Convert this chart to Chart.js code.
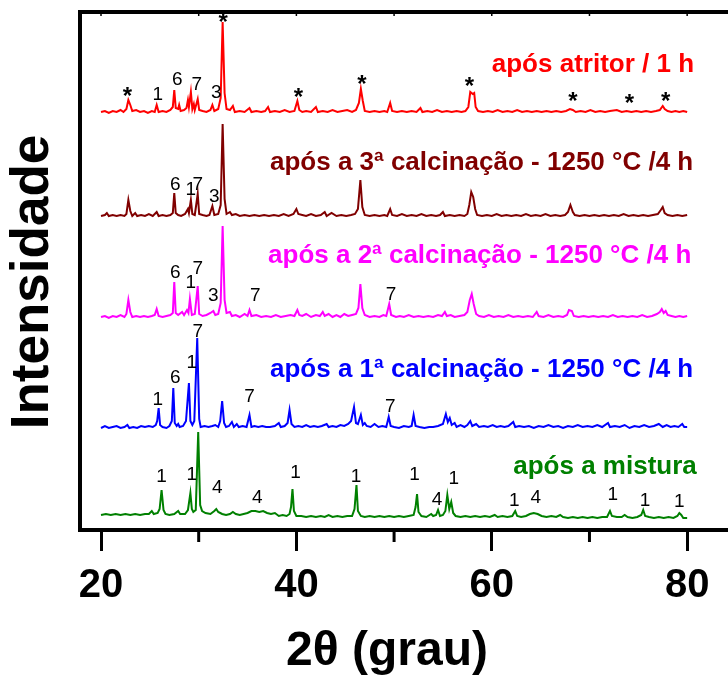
<!DOCTYPE html>
<html>
<head>
<meta charset="utf-8">
<script src="https://cdn.jsdelivr.net/npm/chart.js@4/dist/chart.umd.min.js"></script>
<style>
  html, body { margin: 0; padding: 0; background: #fff; overflow: hidden; }
  #wrap { width: 760px; height: 676px; }
</style>
</head>
<body>
<div id="wrap"><canvas id="xrd" width="760" height="676"></canvas></div>
<script>
// difratogramas : [2theta, intensidade relativa a linha de base]
const scanMistura = [[20,4],[20.5,5],[21.0,4],[21.5,5],[22.0,4],[22.5,5],[23.0,4],[23.5,5],[24.0,4],[24.5,5],[24.9,5],[25.2,8],[25.4,5],[25.8,6],[26.0,10],[26.2,29],[26.4,9],[26.6,5],[27.0,4],[27.5,5],[27.9,8],[28.1,5],[28.6,5],[28.9,9],[29.15,26],[29.3,10],[29.45,7],[29.7,9],[29.95,87],[30.15,14],[30.35,8],[30.7,6],[31.2,5],[31.6,8],[31.8,10],[32.0,7],[32.4,5],[32.8,4],[33.2,5],[33.5,7],[33.8,5],[34.2,4],[34.6,5],[35.0,6],[35.4,8],[35.8,8],[36.2,7],[36.6,8],[37.0,6],[37.4,5],[37.8,6],[38.2,3],[38.6,4],[39.0,3],[39.3,5],[39.45,12],[39.6,30],[39.75,8],[40.0,3],[40.5,3],[41.0,2],[41.5,3],[42.0,2],[42.5,3],[42.9,2],[43.3,4],[43.7,2],[44.2,3],[44.7,2],[45.2,3],[45.7,3],[45.95,10],[46.15,34],[46.3,8],[46.6,3],[47.0,2],[47.5,3],[48.0,2],[48.5,3],[49.0,2],[49.5,3],[50.0,2],[50.5,3],[51.0,2],[51.5,3],[52.0,4],[52.2,12],[52.35,25],[52.5,7],[52.8,3],[53.3,2],[53.8,5],[54.0,3],[54.3,4],[54.5,9],[54.7,3],[55.0,4],[55.25,8],[55.45,24],[55.65,10],[55.85,17],[56.05,6],[56.3,3],[56.8,2],[57.3,3],[57.8,2],[58.3,3],[58.8,2],[59.3,3],[59.8,2],[60.3,4],[60.6,2],[61.1,3],[61.6,2],[62.1,3],[62.4,8],[62.6,3],[63.0,2],[63.5,3],[63.9,5],[64.3,6],[64.7,5],[65.1,3],[65.6,2],[66.1,3],[66.6,2],[67.0,4],[67.3,2],[67.8,1],[68.3,2],[68.8,1],[69.3,2],[69.8,1],[70.3,2],[70.8,1],[71.3,2],[71.8,2],[72.1,8],[72.3,3],[72.8,2],[73.3,2],[73.6,4],[73.9,2],[74.4,1],[74.9,2],[75.3,4],[75.5,9],[75.7,3],[76.1,2],[76.6,1],[77.1,2],[77.6,1],[78.1,2],[78.6,1],[79.0,3],[79.2,6],[79.4,4],[79.6,1],[80,1]];

const scanCalc1 = [[20,1],[20.4,3],[20.8,1],[21.2,2],[21.6,3],[22.0,1],[22.4,2],[22.7,4],[22.9,1],[23.3,2],[23.7,1],[24.1,3],[24.5,2],[24.9,3],[25.3,2],[25.6,4],[25.75,8],[25.9,21],[26.05,4],[26.3,2],[26.7,1],[27.0,3],[27.25,8],[27.4,41],[27.55,6],[27.75,3],[27.9,5],[28.05,2],[28.4,3],[28.7,8],[29.0,46],[29.15,8],[29.35,4],[29.55,8],[29.85,91],[30.05,10],[30.2,2],[30.6,3],[31.0,2],[31.4,3],[31.7,4],[32.0,2],[32.2,8],[32.4,28],[32.6,6],[32.8,2],[33.1,3],[33.4,7],[33.6,2],[33.9,5],[34.1,2],[34.5,3],[34.9,2],[35.2,14],[35.4,2],[35.7,3],[36.1,2],[36.5,3],[36.9,2],[37.3,2],[37.8,3],[38.2,6],[38.4,2],[38.8,3],[39.1,6],[39.3,19],[39.5,5],[39.8,2],[40.2,3],[40.6,2],[41.0,4],[41.4,2],[41.8,3],[42.2,2],[42.6,3],[43.1,5],[43.3,2],[43.7,3],[44.1,2],[44.5,4],[44.9,3],[45.3,5],[45.6,8],[45.9,22],[46.1,6],[46.3,5],[46.6,14],[46.8,4],[47.0,6],[47.2,3],[47.6,2],[48.0,5],[48.4,2],[48.8,3],[49.2,2],[49.45,12],[49.65,3],[50.0,2],[50.5,1],[51.0,3],[51.5,2],[51.8,3],[52.0,14],[52.2,3],[52.6,2],[53.1,1],[53.6,2],[54.0,2],[54.5,3],[55.0,5],[55.3,15],[55.5,7],[55.7,11],[55.9,4],[56.2,6],[56.4,2],[56.8,4],[57.2,2],[57.5,4],[57.8,8],[58.0,3],[58.4,5],[58.7,2],[59.2,3],[59.6,2],[60.1,4],[60.5,2],[60.9,3],[61.3,2],[61.7,3],[62.2,7],[62.4,2],[62.8,3],[63.3,2],[63.8,3],[64.3,1],[64.8,3],[65.3,2],[65.8,4],[66.3,2],[66.8,3],[67.3,1],[67.8,3],[68.3,2],[68.8,4],[69.3,2],[69.8,3],[70.3,2],[70.8,4],[71.3,2],[71.9,6],[72.1,2],[72.6,3],[73.1,2],[73.6,4],[74.1,1],[74.6,3],[75.1,2],[75.6,4],[76.1,2],[76.6,3],[77.1,5],[77.5,2],[77.9,4],[78.3,2],[78.7,3],[79.1,2],[79.5,5],[79.7,2],[80,2]];

const scanCalc2 = [[20,1],[20.4,2],[20.8,0],[21.2,2],[21.6,1],[22.0,3],[22.4,1],[22.6,4],[22.8,18],[23.0,6],[23.2,1],[23.6,2],[24.0,1],[24.4,2],[24.8,1],[25.2,2],[25.5,3],[25.7,9],[25.9,2],[26.3,1],[26.7,2],[27.1,3],[27.35,5],[27.5,36],[27.65,5],[27.9,3],[28.3,6],[28.5,3],[28.8,8],[28.95,5],[29.1,19],[29.3,3],[29.6,4],[29.9,32],[30.05,4],[30.4,2],[30.8,3],[31.2,5],[31.5,7],[31.7,3],[32.0,4],[32.25,15],[32.45,92],[32.65,18],[32.85,5],[33.2,6],[33.4,2],[33.8,3],[34.2,1],[34.7,4],[35.0,2],[35.2,8],[35.4,2],[35.9,3],[36.4,1],[36.9,2],[37.4,1],[37.9,3],[38.4,1],[38.9,2],[39.4,3],[39.8,2],[40.1,8],[40.3,3],[40.6,2],[41.0,4],[41.5,1],[42.0,3],[42.4,2],[42.7,6],[42.9,2],[43.3,4],[43.7,1],[44.1,3],[44.5,1],[44.9,4],[45.3,2],[45.7,3],[46.1,4],[46.35,10],[46.55,34],[46.75,10],[47.0,3],[47.5,1],[48.0,2],[48.5,1],[48.9,3],[49.2,2],[49.5,14],[49.7,3],[50.2,1],[50.6,2],[51.0,1],[51.5,3],[52.0,1],[52.5,2],[53.0,1],[53.5,2],[54.0,1],[54.5,3],[54.9,2],[55.2,6],[55.4,2],[55.8,3],[56.2,1],[56.7,2],[57.2,3],[57.5,6],[57.75,18],[57.95,24],[58.15,14],[58.4,4],[58.7,2],[59.2,1],[59.7,3],[60.2,1],[60.7,2],[61.2,1],[61.7,3],[62.2,1],[62.7,2],[63.2,1],[63.7,2],[64.2,1],[64.6,6],[64.8,2],[65.3,1],[65.8,3],[66.3,1],[66.8,2],[67.3,1],[67.7,3],[67.9,8],[68.2,7],[68.4,2],[68.9,1],[69.4,2],[69.9,1],[70.4,2],[70.9,1],[71.4,2],[71.9,1],[72.4,3],[72.9,1],[73.4,2],[73.9,1],[74.4,2],[74.9,1],[75.4,3],[75.9,1],[76.4,2],[76.9,4],[77.2,6],[77.4,9],[77.6,5],[77.8,7],[78.0,3],[78.4,2],[78.8,1],[79.2,2],[79.6,1],[80,2]];

const scanCalc3 = [[20,1],[20.4,2],[20.6,4],[20.8,1],[21.2,2],[21.6,1],[22.0,2],[22.4,1],[22.6,3],[22.8,17],[23.0,6],[23.2,1],[23.5,4],[23.7,1],[24.1,2],[24.5,1],[24.9,3],[25.3,1],[25.7,5],[25.9,1],[26.3,2],[26.7,1],[27.1,2],[27.35,4],[27.5,24],[27.65,4],[27.9,2],[28.2,1],[28.6,3],[28.9,8],[29.0,4],[29.2,17],[29.35,3],[29.6,2],[29.9,23],[30.05,3],[30.4,2],[30.8,1],[31.1,2],[31.4,11],[31.6,2],[32.0,3],[32.25,12],[32.45,93],[32.65,18],[32.85,3],[33.2,5],[33.4,2],[33.8,3],[34.2,1],[34.7,2],[35.2,1],[35.7,2],[36.2,1],[36.7,2],[37.2,1],[37.7,2],[38.2,1],[38.7,3],[39.2,1],[39.7,3],[40.0,8],[40.2,3],[40.6,2],[41.0,1],[41.5,3],[42.0,1],[42.5,2],[42.9,5],[43.1,1],[43.6,4],[44.1,1],[44.6,2],[45.1,1],[45.6,2],[46.0,3],[46.3,8],[46.55,37],[46.75,10],[47.0,2],[47.5,1],[48.0,2],[48.5,1],[49.0,2],[49.3,1],[49.6,8],[49.8,2],[50.3,1],[50.8,3],[51.3,1],[51.8,2],[52.3,1],[52.8,3],[53.3,1],[53.8,2],[54.3,1],[54.7,2],[55.0,5],[55.2,1],[55.7,2],[56.2,1],[56.7,2],[57.2,1],[57.5,3],[57.7,12],[57.9,25],[58.1,20],[58.3,8],[58.5,2],[59.0,1],[59.5,2],[60.0,1],[60.5,3],[61.0,1],[61.5,2],[62.0,1],[62.5,2],[63.0,1],[63.5,3],[64.0,1],[64.5,2],[65.0,1],[65.5,3],[66.0,1],[66.5,2],[67.0,1],[67.5,2],[67.8,5],[68.05,12],[68.3,5],[68.5,2],[69.0,1],[69.5,2],[70.0,1],[70.5,2],[71.0,1],[71.5,2],[72.0,1],[72.5,2],[73.0,1],[73.5,3],[74.0,1],[74.5,2],[75.0,1],[75.5,2],[76.0,1],[76.5,2],[77.0,3],[77.3,7],[77.5,10],[77.7,4],[78.0,2],[78.5,1],[79.0,2],[79.5,1],[80,2]];

const scanAtritor = [[20,1],[20.4,2],[20.8,0],[21.2,2],[21.6,1],[22.0,3],[22.3,1],[22.6,4],[22.8,13],[23.0,8],[23.2,2],[23.6,3],[24.0,1],[24.4,2],[24.8,0],[25.2,2],[25.5,1],[25.7,8],[25.9,1],[26.3,2],[26.7,1],[27.1,3],[27.35,6],[27.5,23],[27.65,5],[27.9,4],[28.0,8],[28.15,2],[28.5,3],[28.75,5],[28.9,13],[29.0,6],[29.2,21],[29.35,4],[29.5,9],[29.6,3],[29.9,14],[30.05,3],[30.4,2],[30.8,1],[31.2,3],[31.4,8],[31.6,2],[32.0,4],[32.25,15],[32.45,91],[32.65,20],[32.85,4],[33.2,3],[33.5,7],[33.7,1],[34.2,2],[34.7,1],[35.2,5],[35.4,1],[35.9,2],[36.4,1],[36.8,2],[37.1,6],[37.3,1],[37.8,2],[38.3,1],[38.8,3],[39.3,1],[39.8,2],[40.1,12],[40.3,3],[40.6,1],[41.0,2],[41.5,1],[42.0,6],[42.2,1],[42.7,2],[43.2,1],[43.7,3],[44.2,1],[44.7,2],[45.2,3],[45.7,1],[46.1,3],[46.4,10],[46.6,24],[46.8,12],[47.0,2],[47.5,1],[48.0,2],[48.5,1],[49.0,2],[49.3,1],[49.6,10],[49.8,2],[50.3,1],[50.8,2],[51.3,1],[51.8,2],[52.3,1],[52.7,5],[52.9,1],[53.4,2],[53.9,1],[54.4,3],[54.9,1],[55.4,2],[55.9,1],[56.4,2],[56.9,1],[57.3,2],[57.6,6],[57.8,21],[58.05,19],[58.2,20],[58.35,6],[58.6,2],[59.1,1],[59.6,2],[60.1,1],[60.6,3],[61.1,1],[61.6,2],[62.1,1],[62.6,3],[63.1,1],[63.6,2],[64.1,1],[64.6,2],[65.1,1],[65.6,2],[66.1,1],[66.6,2],[67.1,1],[67.6,2],[68.0,4],[68.3,3],[68.6,1],[69.1,2],[69.6,1],[70.1,3],[70.6,1],[71.1,2],[71.6,1],[72.1,2],[72.8,3],[73.3,1],[73.8,2],[74.3,1],[74.8,2],[75.3,1],[75.8,2],[76.3,1],[76.8,2],[77.2,3],[77.5,7],[77.7,4],[78.0,2],[78.4,1],[78.8,2],[79.2,1],[79.6,2],[80,1]];

// empilhamento (deslocamento vertical de cada curva)
const offsets = [11, 101, 212, 313, 417];
const seriesNames = ['após a mistura', 'após a 1ª calcinação - 1250 °C /4 h', 'após a 2ª calcinação - 1250 °C /4 h', 'após a 3ª calcinação - 1250 °C /4 h', 'após atritor / 1 h'];
const seriesColors = ['#008000', '#0000ff', '#ff00ff', '#800000', '#ff0000'];
// onde fica o nome de cada curva [2theta, intensidade]
const namePos = [[62.2, 63], [37.3, 160], [37.1, 274], [37.3, 367], [60.0, 465]];

// identificacao dos picos : [2theta, intensidade, rotulo]
const peakMarks = [
  [26.2,53,'1'],[29.3,55,'1'],[31.9,42,'4'],[36.0,32,'4'],[39.9,57,'1'],[46.1,53,'1'],[52.1,55,'1'],[54.4,30,'4'],[56.1,51,'1'],[62.3,29,'1'],[64.5,32,'4'],[72.4,35,'1'],[75.7,29,'1'],[79.2,28,'1'],
  [25.8,130,'1'],[27.6,152,'6'],[29.3,167,'1'],[29.9,198,'7'],[35.2,133,'7'],[49.6,123,'7'],
  [27.6,257,'6'],[29.2,247,'1'],[29.9,261,'7'],[31.5,234,'3'],[35.8,234,'7'],[49.7,235,'7'],
  [27.6,345,'6'],[29.2,340,'1'],[29.9,345,'7'],[31.6,333,'3'],
  [22.7,438,'*'],[25.8,435,'1'],[27.8,450,'6'],[29.8,445,'7'],[31.8,437,'3'],[32.5,512,'*'],[40.2,437,'*'],[46.7,450,'*'],[57.7,448,'*'],[68.3,433,'*'],[74.1,431,'*'],[77.8,433,'*']
];

const xTicks = [20, 30, 40, 50, 60, 70, 80];
const FONT = "'Liberation Sans', Arial, Helvetica, sans-serif";

let scans = [scanMistura, scanCalc1, scanCalc2, scanCalc3, scanAtritor];

let datasets = scans.map((scan, i) => ({
    label: seriesNames[i],
    data: scan.map(p => ({ x: p[0], y: p[1] + offsets[i] })),
    borderColor: seriesColors[i],
    borderWidth: 2,
    pointRadius: 0,
    tension: 0,
    fill: false
}));

// textos, moldura superior, ticks menores e titulos dos eixos
const decoPlugin = {
    id: 'deco',
    afterDatasetsDraw(chart) {
        const ctx = chart.ctx;
        const xs = chart.scales.x, ys = chart.scales.y;
        const area = chart.chartArea;
        ctx.save();

        // linha de cima
        ctx.strokeStyle = '#000';
        ctx.lineWidth = 4;
        ctx.beginPath();
        ctx.moveTo(area.left - 2, area.top);
        ctx.lineTo(area.right, area.top);
        ctx.stroke();
        ctx.lineWidth = 1.5;
        xTicks.forEach(v => {
            let px = xs.getPixelForValue(v);
            ctx.beginPath();
            ctx.moveTo(px, area.top);
            ctx.lineTo(px, area.top + 4);
            ctx.stroke();
        });

        // ticks menores em baixo
        ctx.lineWidth = 3;
        xTicks.filter(v => v % 20 !== 0).forEach(v => {
            let px = xs.getPixelForValue(v);
            ctx.beginPath();
            ctx.moveTo(px, area.bottom);
            ctx.lineTo(px, area.bottom + 12);
            ctx.stroke();
        });

        // nomes das curvas
        ctx.textAlign = 'left';
        ctx.textBaseline = 'middle';
        ctx.font = 'bold 26px ' + FONT;
        seriesNames.forEach((name, i) => {
            ctx.fillStyle = seriesColors[i];
            ctx.fillText(name, xs.getPixelForValue(namePos[i][0]), ys.getPixelForValue(namePos[i][1]));
        });

        // rotulos dos picos
        ctx.fillStyle = '#000';
        ctx.textAlign = 'center';
        peakMarks.forEach(m => {
            let px = xs.getPixelForValue(m[0]);
            let py = ys.getPixelForValue(m[1]);
            if (m[2] === '*') {
                ctx.font = 'bold 24px ' + FONT;
                ctx.fillText(m[2], px, py + 5);
            } else {
                ctx.font = '19px ' + FONT;
                ctx.fillText(m[2], px, py);
            }
        });

        // titulos dos eixos
        ctx.font = 'bold 48px ' + FONT;
        ctx.fillText('2θ (grau)', 387, 652);
        ctx.translate(33, 282);
        ctx.rotate(-Math.PI / 2);
        ctx.font = 'bold 53px ' + FONT;
        ctx.fillText('Intensidade', 0, 0);

        ctx.restore();
    }
};

new Chart(document.getElementById('xrd'), {
    type: 'line',
    data: { datasets: datasets },
    options: {
        responsive: false,
        animation: false,
        devicePixelRatio: 1,
        layout: { padding: { left: 0, right: 24, top: 12, bottom: 0 } },
        plugins: { legend: { display: false }, tooltip: { enabled: false } },
        scales: {
            x: {
                type: 'linear',
                min: 17.85,
                max: 85,
                afterBuildTicks: s => { s.ticks = xTicks.map(v => ({ value: v })); },
                afterFit: s => { s.height = 146; },
                border: { display: true, width: 4, color: '#000' },
                grid: {
                    drawOnChartArea: false,
                    drawTicks: true,
                    tickLength: 21,
                    tickWidth: 3,
                    tickColor: c => (c.tick && c.tick.value % 20 === 0) ? '#000' : 'rgba(0,0,0,0)'
                },
                ticks: {
                    color: '#000',
                    padding: 11,
                    font: { family: FONT, size: 40, weight: 'bold' },
                    callback: v => (v % 20 === 0 ? v : '')
                }
            },
            y: {
                min: 0,
                max: 518,
                afterFit: s => { s.width = 80; },
                border: { display: true, width: 4, color: '#000' },
                grid: { display: false },
                ticks: { display: false }
            }
        }
    },
    plugins: [decoPlugin]
});
</script>
</body>
</html>
